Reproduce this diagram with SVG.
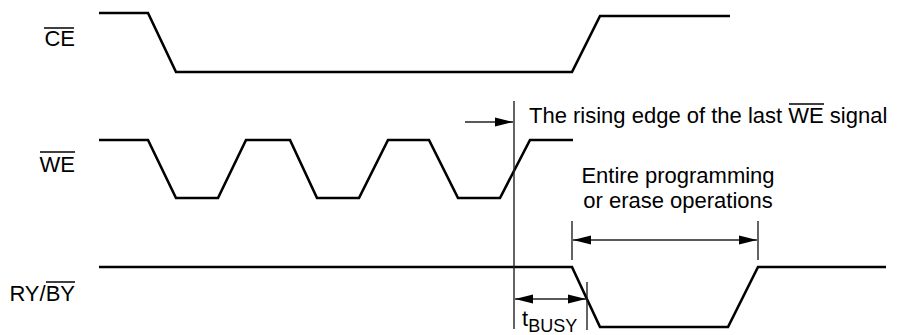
<svg xmlns="http://www.w3.org/2000/svg" width="898" height="335" viewBox="0 0 898 335">
<style>
.sig{fill:none;stroke:#000;stroke-width:2.6;stroke-linejoin:miter}
.ann{fill:none;stroke:#222;stroke-width:1.4}
.ov{stroke:#000;stroke-width:1.5}
text{font-family:"Liberation Sans",Arial,sans-serif;font-size:22px;fill:#000}
</style>
<defs>
<marker id="ah" markerUnits="userSpaceOnUse" markerWidth="20" markerHeight="12" refX="18" refY="5" orient="auto-start-reverse">
<path d="M0,0.5 L18,5 L0,9.5 Z" fill="#000"/>
</marker>
</defs>
<rect width="898" height="335" fill="#fff"/>
<g id="ce">
<text x="75" y="46" text-anchor="end">CE</text>
<line class="ov" x1="44" y1="28" x2="74" y2="28"/>
<polyline class="sig" points="99,13 148,13 176,72 572,72 600,16 730,16"/>
</g>
<g id="we">
<text x="75" y="172" text-anchor="end">WE</text>
<line class="ov" x1="40" y1="152" x2="75" y2="152"/>
<polyline class="sig" points="99,140 148,140 176,198 218,198 246,140 290,140 317,198 359,198 388,140 429,140 458,198 500,198 530,140 573,140"/>
</g>
<g id="ryby">
<text x="75" y="301" text-anchor="end">RY/BY</text>
<line class="ov" x1="46" y1="282" x2="75" y2="282"/>
<polyline class="sig" points="99,267 572,267 600,327 728,327 758,267 886,267"/>
</g>
<g id="note-we">
<text x="529" y="123">The rising edge of the last WE signal</text>
<line class="ov" x1="789" y1="104" x2="824" y2="104"/>
</g>
<g id="note-ops">
<text x="678" y="183" text-anchor="middle">Entire programming</text>
<text x="678" y="208" text-anchor="middle">or erase operations</text>
</g>
<g id="note-tbusy">
<text x="522" y="326">t<tspan font-size="18" dy="6">BUSY</tspan></text>
</g>
<g id="connectors">
<line class="ann" x1="514" y1="101" x2="514" y2="329"/>
<line class="ann" x1="465" y1="122" x2="513" y2="122" marker-end="url(#ah)"/>
<line class="ann" x1="572" y1="221" x2="572" y2="260"/>
<line class="ann" x1="758" y1="221" x2="758" y2="260"/>
<line class="ann" x1="573" y1="240" x2="757" y2="240" marker-start="url(#ah)" marker-end="url(#ah)"/>
<line class="ann" x1="587" y1="282" x2="587" y2="330"/>
<line class="ann" x1="515" y1="299" x2="586" y2="299" marker-start="url(#ah)" marker-end="url(#ah)"/>
</g>
</svg>
